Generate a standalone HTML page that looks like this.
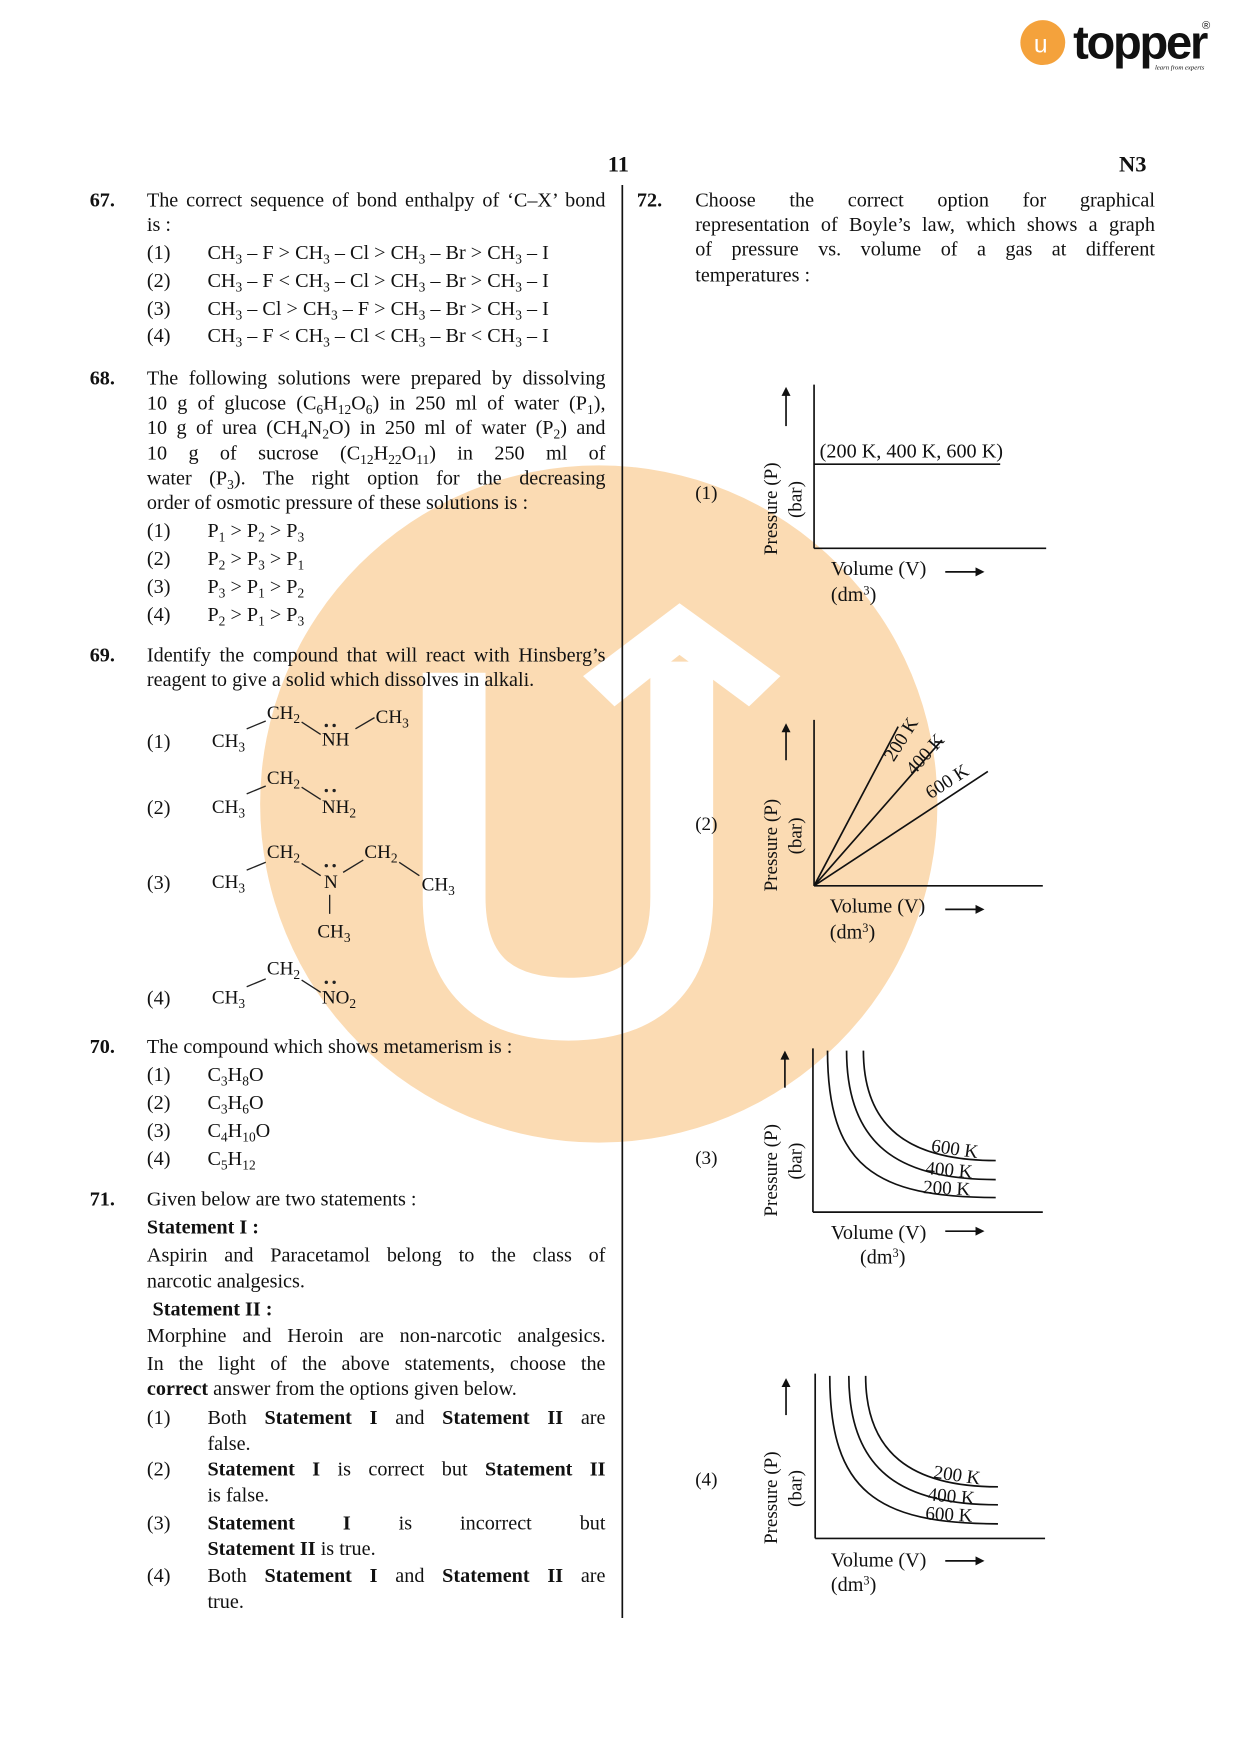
<!DOCTYPE html>
<html><head><meta charset="utf-8"><style>
html,body{margin:0;padding:0;background:#fff;width:1240px;height:1755px;overflow:hidden}
#w{position:absolute;left:0;top:0;width:1100px;height:1557px;transform:scale(1.1213);transform-origin:0 0}
.t{position:absolute;white-space:nowrap;font-family:"Liberation Serif",serif;font-size:18px;line-height:20px;color:#111}
.j{width:409px;text-align:justify;text-align-last:justify;white-space:normal}
.jr{width:410px;text-align:justify;text-align-last:justify;white-space:normal}
sub{font-size:12px;vertical-align:-4px;line-height:0}
sup{font-size:11px;vertical-align:6px;line-height:0}
b{font-weight:bold}
.c{font-size:17px}
</style></head><body><div id="w">
<svg width="1100" height="1557" style="position:absolute;left:0;top:0">
<circle cx="534" cy="717" r="302" fill="#fbdbb3"/>
<path d="M405,600 L405,800 Q405,900 507,900 Q608,900 608,800 L608,590" fill="none" stroke="#fff" stroke-width="56"/>
<polygon points="520,603 606,538 696,603 668,630 606,584 548,630" fill="#fff"/>
<circle cx="930" cy="38" r="20" fill="#f4a23c"/>
<text x="922" y="47" font-family="Liberation Sans" font-size="22" fill="#fff">u</text>
<text x="957" y="52" font-family="Liberation Sans" font-weight="bold" font-size="42" fill="#111" letter-spacing="-2">topper</text>
<text x="1072" y="26" font-family="Liberation Sans" font-size="10" fill="#111">®</text>
<text x="1030" y="62" font-family="Liberation Serif" font-style="italic" font-size="6" fill="#111">learn from experts</text>
<line x1="555" y1="165" x2="555" y2="1443" stroke="#111" stroke-width="1.5"/>
<g stroke="#222" stroke-width="1.2" fill="none">
<line x1="220" y1="650" x2="237" y2="643"/><line x1="269" y1="644" x2="286" y2="655"/><line x1="317" y1="650" x2="334" y2="640"/>
<line x1="220" y1="708" x2="237" y2="701"/><line x1="269" y1="702" x2="286" y2="713"/>
<line x1="220" y1="776" x2="237" y2="769"/><line x1="269" y1="770" x2="286" y2="781"/><line x1="306" y1="778" x2="324" y2="767"/><line x1="356" y1="769" x2="374" y2="781"/><line x1="294" y1="798" x2="294" y2="815"/>
<line x1="220" y1="880" x2="237" y2="873"/><line x1="269" y1="874" x2="286" y2="885"/>
</g>
<g fill="#222"><circle cx="291" cy="647" r="1.5"/><circle cx="298" cy="647" r="1.5"/><circle cx="291" cy="705" r="1.5"/><circle cx="298" cy="705" r="1.5"/><circle cx="291" cy="772" r="1.5"/><circle cx="298" cy="772" r="1.5"/><circle cx="291" cy="876" r="1.5"/><circle cx="298" cy="876" r="1.5"/></g>
<g stroke="#111" stroke-width="1.5" fill="none">
<line x1="726" y1="343" x2="726" y2="489"/><line x1="726" y1="489" x2="933" y2="489"/><line x1="726" y1="414" x2="892" y2="414"/>
<line x1="726" y1="642" x2="726" y2="790"/><line x1="726" y1="790" x2="930" y2="790"/>
<line x1="726" y1="790" x2="801" y2="648"/><line x1="726" y1="790" x2="840" y2="660"/><line x1="726" y1="790" x2="881" y2="688"/>
<line x1="725" y1="935" x2="725" y2="1081"/><line x1="725" y1="1081" x2="930" y2="1081"/>
<path d="M738,937 C738,1040 780,1068 888,1068"/><path d="M755,937 C755,1020 800,1052 888,1052"/><path d="M770,937 C770,1005 810,1035 888,1035"/>
<line x1="727" y1="1225" x2="727" y2="1372"/><line x1="727" y1="1372" x2="932" y2="1372"/>
<path d="M740,1227 C740,1330 782,1359 890,1359"/><path d="M757,1227 C757,1310 802,1342 890,1342"/><path d="M772,1227 C772,1295 812,1326 890,1326"/>
<line x1="701" y1="380" x2="701" y2="350"/><line x1="701" y1="678" x2="701" y2="650"/><line x1="700" y1="970" x2="700" y2="942"/><line x1="701" y1="1262" x2="701" y2="1234"/>
<line x1="843" y1="510" x2="873" y2="510"/><line x1="843" y1="811" x2="873" y2="811"/><line x1="843" y1="1098" x2="873" y2="1098"/><line x1="843" y1="1392" x2="873" y2="1392"/>
</g>
<g fill="#111">
<polygon points="701,345 697,353 705,353"/><polygon points="701,645 697,653 705,653"/><polygon points="700,937 696,945 704,945"/><polygon points="701,1229 697,1237 705,1237"/>
<polygon points="878,510 870,506 870,514"/><polygon points="878,811 870,807 870,815"/><polygon points="878,1098 870,1094 870,1102"/><polygon points="878,1392 870,1388 870,1396"/>
</g>
<g font-family="Liberation Serif" font-size="17" fill="#111">
<text transform="translate(693,495) rotate(-90)">Pressure (P)</text><text transform="translate(715,462) rotate(-90)">(bar)</text>
<text transform="translate(693,795) rotate(-90)">Pressure (P)</text><text transform="translate(715,762) rotate(-90)">(bar)</text>
<text transform="translate(693,1085) rotate(-90)">Pressure (P)</text><text transform="translate(715,1052) rotate(-90)">(bar)</text>
<text transform="translate(693,1377) rotate(-90)">Pressure (P)</text><text transform="translate(715,1344) rotate(-90)">(bar)</text>
<text transform="translate(797,680) rotate(-58)">200 K</text><text transform="translate(815,692) rotate(-48)">400 K</text><text transform="translate(830,713) rotate(-33)">600 K</text>
<text transform="translate(830,1027) rotate(8)">600 K</text><text transform="translate(825,1047) rotate(5)">400 K</text><text transform="translate(823,1064) rotate(3)">200 K</text>
<text transform="translate(832,1318) rotate(8)">200 K</text><text transform="translate(827,1338) rotate(5)">400 K</text><text transform="translate(825,1355) rotate(3)">600 K</text>
</g>
</svg>

<div class="t" style="left:542px;top:137px;font-weight:bold;font-size:20px">11</div>
<div class="t" style="left:998px;top:137px;font-weight:bold;font-size:20px">N3</div>

<div class="t" style="left:80px;top:168px"><b>67.</b></div>
<div class="t j" style="left:131px;top:168px">The correct sequence of bond enthalpy of ‘C–X’ bond</div>
<div class="t" style="left:131px;top:190px">is :</div>
<div class="t" style="left:131px;top:215px">(1)</div><div class="t" style="left:185px;top:215px">CH<sub>3</sub> – F &gt; CH<sub>3</sub> – Cl &gt; CH<sub>3</sub> – Br &gt; CH<sub>3</sub> – I</div>
<div class="t" style="left:131px;top:240px">(2)</div><div class="t" style="left:185px;top:240px">CH<sub>3</sub> – F &lt; CH<sub>3</sub> – Cl &gt; CH<sub>3</sub> – Br &gt; CH<sub>3</sub> – I</div>
<div class="t" style="left:131px;top:265px">(3)</div><div class="t" style="left:185px;top:265px">CH<sub>3</sub> – Cl &gt; CH<sub>3</sub> – F &gt; CH<sub>3</sub> – Br &gt; CH<sub>3</sub> – I</div>
<div class="t" style="left:131px;top:289px">(4)</div><div class="t" style="left:185px;top:289px">CH<sub>3</sub> – F &lt; CH<sub>3</sub> – Cl &lt; CH<sub>3</sub> – Br &lt; CH<sub>3</sub> – I</div>

<div class="t" style="left:80px;top:327px"><b>68.</b></div>
<div class="t j" style="left:131px;top:327px">The following solutions were prepared by dissolving</div>
<div class="t j" style="left:131px;top:349px">10 g of glucose (C<sub>6</sub>H<sub>12</sub>O<sub>6</sub>) in 250 ml of water (P<sub>1</sub>),</div>
<div class="t j" style="left:131px;top:371px">10 g of urea (CH<sub>4</sub>N<sub>2</sub>O) in 250 ml of water (P<sub>2</sub>) and</div>
<div class="t j" style="left:131px;top:394px">10 g of sucrose (C<sub>12</sub>H<sub>22</sub>O<sub>11</sub>) in 250 ml of</div>
<div class="t j" style="left:131px;top:416px">water (P<sub>3</sub>). The right option for the decreasing</div>
<div class="t" style="left:131px;top:438px">order of osmotic pressure of these solutions is :</div>
<div class="t" style="left:131px;top:463px">(1)</div><div class="t" style="left:185px;top:463px">P<sub>1</sub> &gt; P<sub>2</sub> &gt; P<sub>3</sub></div>
<div class="t" style="left:131px;top:488px">(2)</div><div class="t" style="left:185px;top:488px">P<sub>2</sub> &gt; P<sub>3</sub> &gt; P<sub>1</sub></div>
<div class="t" style="left:131px;top:513px">(3)</div><div class="t" style="left:185px;top:513px">P<sub>3</sub> &gt; P<sub>1</sub> &gt; P<sub>2</sub></div>
<div class="t" style="left:131px;top:538px">(4)</div><div class="t" style="left:185px;top:538px">P<sub>2</sub> &gt; P<sub>1</sub> &gt; P<sub>3</sub></div>

<div class="t" style="left:80px;top:574px"><b>69.</b></div>
<div class="t j" style="left:131px;top:574px">Identify the compound that will react with Hinsberg’s</div>
<div class="t" style="left:131px;top:596px">reagent to give a solid which dissolves in alkali.</div>
<div class="t" style="left:131px;top:651px">(1)</div><div class="t c" style="left:189px;top:651px">CH<sub>3</sub></div><div class="t c" style="left:238px;top:626px">CH<sub>2</sub></div><div class="t c" style="left:287px;top:650px">NH</div><div class="t c" style="left:335px;top:630px">CH<sub>3</sub></div>
<div class="t" style="left:131px;top:710px">(2)</div><div class="t c" style="left:189px;top:710px">CH<sub>3</sub></div><div class="t c" style="left:238px;top:684px">CH<sub>2</sub></div><div class="t c" style="left:287px;top:710px">NH<sub>2</sub></div>
<div class="t" style="left:131px;top:777px">(3)</div><div class="t c" style="left:189px;top:777px">CH<sub>3</sub></div><div class="t c" style="left:238px;top:750px">CH<sub>2</sub></div><div class="t c" style="left:289px;top:777px">N</div><div class="t c" style="left:325px;top:750px">CH<sub>2</sub></div><div class="t c" style="left:376px;top:779px">CH<sub>3</sub></div><div class="t c" style="left:283px;top:821px">CH<sub>3</sub></div>
<div class="t" style="left:131px;top:880px">(4)</div><div class="t c" style="left:189px;top:880px">CH<sub>3</sub></div><div class="t c" style="left:238px;top:854px">CH<sub>2</sub></div><div class="t c" style="left:287px;top:880px">NO<sub>2</sub></div>

<div class="t" style="left:80px;top:923px"><b>70.</b></div>
<div class="t" style="left:131px;top:923px">The compound which shows metamerism is :</div>
<div class="t" style="left:131px;top:948px">(1)</div><div class="t" style="left:185px;top:948px">C<sub>3</sub>H<sub>8</sub>O</div>
<div class="t" style="left:131px;top:973px">(2)</div><div class="t" style="left:185px;top:973px">C<sub>3</sub>H<sub>6</sub>O</div>
<div class="t" style="left:131px;top:998px">(3)</div><div class="t" style="left:185px;top:998px">C<sub>4</sub>H<sub>10</sub>O</div>
<div class="t" style="left:131px;top:1023px">(4)</div><div class="t" style="left:185px;top:1023px">C<sub>5</sub>H<sub>12</sub></div>

<div class="t" style="left:80px;top:1059px"><b>71.</b></div>
<div class="t" style="left:131px;top:1059px">Given below are two statements :</div>
<div class="t" style="left:131px;top:1084px"><b>Statement I :</b></div>
<div class="t j" style="left:131px;top:1109px">Aspirin and Paracetamol belong to the class of</div>
<div class="t" style="left:131px;top:1132px">narcotic analgesics.</div>
<div class="t" style="left:136px;top:1157px"><b>Statement II :</b></div>
<div class="t j" style="left:131px;top:1181px">Morphine and Heroin are non-narcotic analgesics.</div>
<div class="t j" style="left:131px;top:1206px">In the light of the above statements, choose the</div>
<div class="t" style="left:131px;top:1228px"><b>correct</b> answer from the options given below.</div>
<div class="t" style="left:131px;top:1254px">(1)</div><div class="t" style="left:185px;top:1254px;width:355px;text-align:justify;text-align-last:justify;white-space:normal">Both <b>Statement I</b> and <b>Statement II</b> are</div><div class="t" style="left:185px;top:1277px">false.</div>
<div class="t" style="left:131px;top:1300px">(2)</div><div class="t" style="left:185px;top:1300px;width:355px;text-align:justify;text-align-last:justify;white-space:normal"><b>Statement I</b> is correct but <b>Statement II</b></div><div class="t" style="left:185px;top:1323px">is false.</div>
<div class="t" style="left:131px;top:1348px">(3)</div><div class="t" style="left:185px;top:1348px;width:355px;text-align:justify;text-align-last:justify;white-space:normal"><b>Statement I</b> is incorrect but</div><div class="t" style="left:185px;top:1371px"><b>Statement II</b> is true.</div>
<div class="t" style="left:131px;top:1395px">(4)</div><div class="t" style="left:185px;top:1395px;width:355px;text-align:justify;text-align-last:justify;white-space:normal">Both <b>Statement I</b> and <b>Statement II</b> are</div><div class="t" style="left:185px;top:1418px">true.</div>

<div class="t" style="left:568px;top:168px"><b>72.</b></div>
<div class="t jr" style="left:620px;top:168px">Choose the correct option for graphical</div>
<div class="t jr" style="left:620px;top:190px">representation of Boyle’s law, which shows a graph</div>
<div class="t jr" style="left:620px;top:212px">of pressure vs. volume of a gas at different</div>
<div class="t" style="left:620px;top:235px">temperatures :</div>

<div class="t c" style="left:620px;top:430px">(1)</div>
<div class="t" style="left:731px;top:392px">(200 K, 400 K, 600 K)</div>
<div class="t" style="left:741px;top:497px">Volume (V)</div><div class="t" style="left:741px;top:520px">(dm<sup>3</sup>)</div>
<div class="t c" style="left:620px;top:725px">(2)</div>
<div class="t" style="left:740px;top:798px">Volume (V)</div><div class="t" style="left:740px;top:821px">(dm<sup>3</sup>)</div>
<div class="t c" style="left:620px;top:1023px">(3)</div>
<div class="t" style="left:741px;top:1089px">Volume (V)</div><div class="t" style="left:767px;top:1111px">(dm<sup>3</sup>)</div>
<div class="t c" style="left:620px;top:1310px">(4)</div>
<div class="t" style="left:741px;top:1381px">Volume (V)</div><div class="t" style="left:741px;top:1403px">(dm<sup>3</sup>)</div>
</div></body></html>
